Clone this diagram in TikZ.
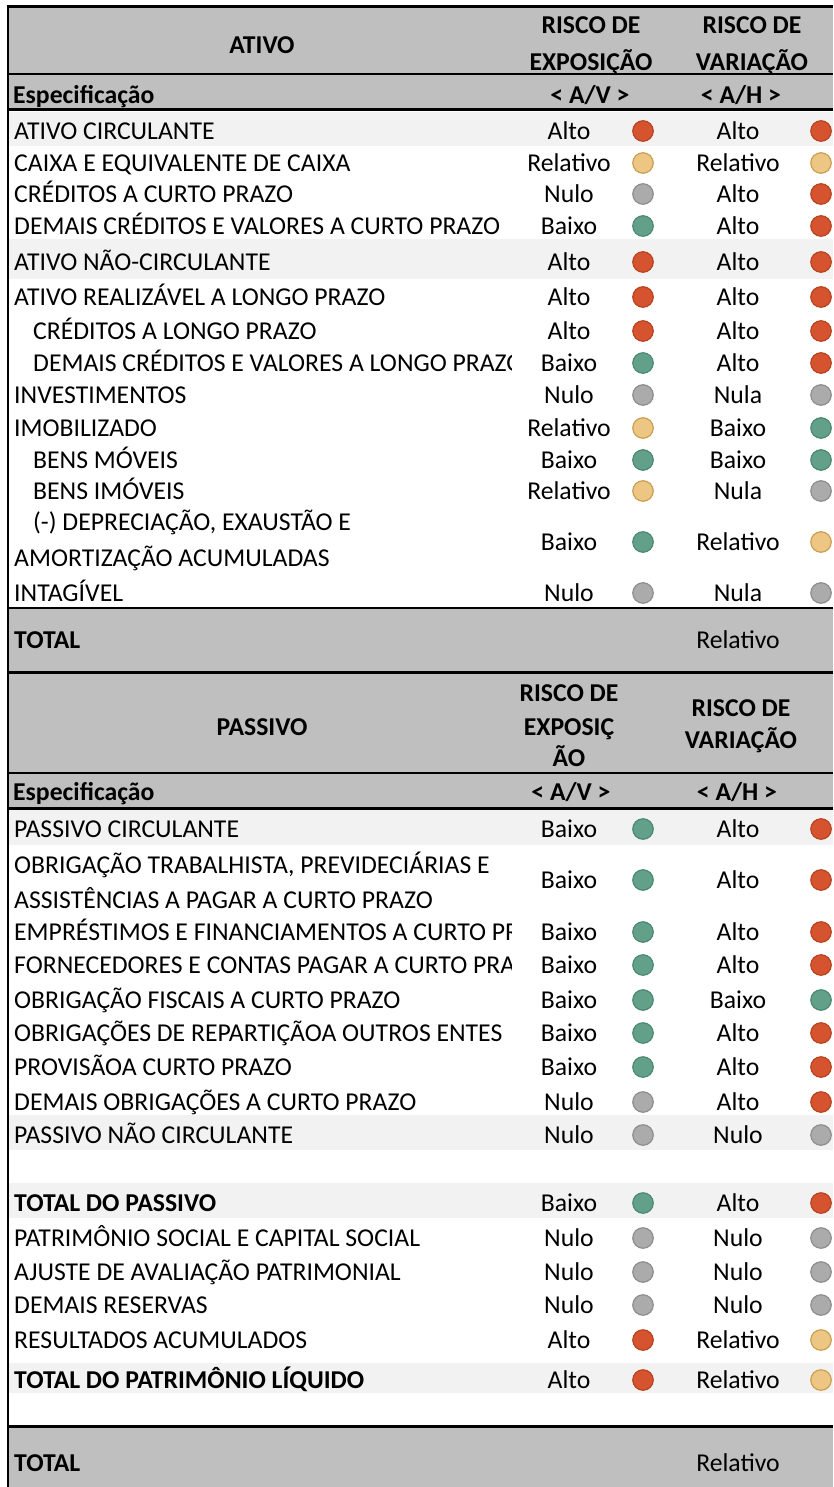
\documentclass[tikz,border=0pt]{standalone}
\usepackage{fontspec}
\setmainfont{Carlito}
\definecolor{hdrgray}{HTML}{BFBFBF}
\definecolor{bandgray}{HTML}{F2F2F2}
\definecolor{cR}{HTML}{D6532F}
\definecolor{cRd}{HTML}{B8441F}
\definecolor{cY}{HTML}{EEC683}
\definecolor{cYd}{HTML}{C9A052}
\definecolor{cG}{HTML}{62A08A}
\definecolor{cGd}{HTML}{4C8A73}
\definecolor{cN}{HTML}{ABABAB}
\definecolor{cNd}{HTML}{8E8E8E}
\newcommand{\tabfont}{\fontsize{25.7}{30}\selectfont}
\tikzset{
  every node/.style={font=\tabfont},
  lbl/.style={anchor=base west, inner sep=0pt},
  val/.style={anchor=base, inner sep=0pt},
  hdr/.style={anchor=base, inner sep=0pt, font=\tabfont\bfseries},
  hdrl/.style={anchor=base west, inner sep=0pt, font=\tabfont\bfseries},
  dot/.style={circle, minimum size=20.5pt, inner sep=0pt, line width=1.2pt},
  dotR/.style={dot, fill=cR, draw=cRd},
  dotY/.style={dot, fill=cY, draw=cYd},
  dotG/.style={dot, fill=cG, draw=cGd},
  dotN/.style={dot, fill=cN, draw=cNd},
  rule/.style={draw=black, line width=#1},
}
% values only
\newcommand{\vrow}[6]{%
  \node[val] (#1a) at (569,#2+8.3) {#3};
  \node[#4] (#1b) at (643,#2) {};
  \node[val] (#1c) at (738,#2+8.3) {#5};
  \node[#6] (#1d) at (821,#2) {};
}
% label (clipped to first column) and values
\newcommand{\trow}[8]{%
  \begin{scope}
    \clip (0,0) rectangle (511,1487);
    \node[lbl] (#1l) at (#3,#2+8.3) {#4};
  \end{scope}
  \vrow{#1}{#2}{#5}{#6}{#7}{#8}
}
\begin{document}
\begin{tikzpicture}[x=1pt,y=-1pt]
\useasboundingbox (0,0) rectangle (833,1487);
\fill[white] (0,0) rectangle (833,1487);
% header backgrounds
\fill[hdrgray] (8,7) rectangle (833,110);
\fill[hdrgray] (8,608) rectangle (833,808);
\fill[hdrgray] (8,1426) rectangle (833,1487);
% light bands
\fill[bandgray] (9,112) rectangle (833,146);
\fill[bandgray] (9,239) rectangle (833,279);
\fill[bandgray] (9,810) rectangle (833,845);
\fill[bandgray] (9,1115) rectangle (833,1150);
\fill[bandgray] (9,1183) rectangle (833,1218);
\fill[bandgray] (9,1363) rectangle (833,1393);
% rules
\draw[rule=3pt] (7,7) -- (833,7);
\draw[rule=2pt] (8,7) -- (8,1487);
\draw[rule=2pt] (7,74) -- (833,74);
\draw[rule=3pt] (7,110) -- (833,110);
\draw[rule=2pt] (7,608) -- (833,608);
\draw[rule=3pt] (7,672) -- (833,672);
\draw[rule=2pt] (7,773) -- (833,773);
\draw[rule=3pt] (7,808) -- (833,808);
\draw[rule=3pt] (7,1426) -- (833,1426);

% ATIVO header
\node[hdr] (hA) at (262,53.3) {ATIVO};
\node[hdr] (hA1) at (591,33.3) {RISCO DE};
\node[hdr] (hA2) at (591,70.3) {EXPOSIÇÃO};
\node[hdr] (hA3) at (752,33.3) {RISCO DE};
\node[hdr] (hA4) at (752,70.3) {VARIAÇÃO};
\node[hdrl] (hA5) at (13,103.3) {Especificação};
\node[hdr] (hA6) at (590,103.3) {< A/V >};
\node[hdr] (hA7) at (741,103.3) {< A/H >};

% ATIVO rows
\trow{a1}{131}{14}{ATIVO CIRCULANTE}{Alto}{dotR}{Alto}{dotR}
\trow{a2}{163}{14}{CAIXA E EQUIVALENTE DE CAIXA}{Relativo}{dotY}{Relativo}{dotY}
\trow{a3}{194}{14}{CRÉDITOS A CURTO PRAZO}{Nulo}{dotN}{Alto}{dotR}
\trow{a4}{226}{14}{DEMAIS CRÉDITOS E VALORES A CURTO PRAZO}{Baixo}{dotG}{Alto}{dotR}
\trow{a5}{262}{14}{ATIVO NÃO-CIRCULANTE}{Alto}{dotR}{Alto}{dotR}
\trow{a6}{297}{14}{ATIVO REALIZÁVEL A LONGO PRAZO}{Alto}{dotR}{Alto}{dotR}
\trow{a7}{331}{33}{CRÉDITOS A LONGO PRAZO}{Alto}{dotR}{Alto}{dotR}
\trow{a8}{363}{33}{DEMAIS CRÉDITOS E VALORES A LONGO PRAZO}{Baixo}{dotG}{Alto}{dotR}
\trow{a9}{395}{14}{INVESTIMENTOS}{Nulo}{dotN}{Nula}{dotN}
\trow{a10}{428}{14}{IMOBILIZADO}{Relativo}{dotY}{Baixo}{dotG}
\trow{a11}{460}{33}{BENS MÓVEIS}{Baixo}{dotG}{Baixo}{dotG}
\trow{a12}{491}{33}{BENS IMÓVEIS}{Relativo}{dotY}{Nula}{dotN}
\node[lbl] (a13l) at (33,530.3) {(-) DEPRECIAÇÃO, EXAUSTÃO E};
\node[lbl] (a13m) at (14,566.3) {AMORTIZAÇÃO ACUMULADAS};
\vrow{a13}{542}{Baixo}{dotG}{Relativo}{dotY}
\trow{a14}{593}{14}{INTAGÍVEL}{Nulo}{dotN}{Nula}{dotN}
\node[hdrl] (aT) at (14,648.3) {TOTAL};
\node[val] (aTv) at (738,648.3) {Relativo};

% PASSIVO header
\node[hdr] (hP) at (262,735.3) {PASSIVO};
\node[hdr] (hP1) at (569,701.3) {RISCO DE};
\node[hdr] (hP2) at (569,735.3) {EXPOSIÇ};
\node[hdr] (hP3) at (569,766.3) {ÃO};
\node[hdr] (hP4) at (741,716.3) {RISCO DE};
\node[hdr] (hP5) at (741,748.3) {VARIAÇÃO};
\node[hdrl] (hP6) at (13,800.3) {Especificação};
\node[hdr] (hP7) at (571,800.3) {< A/V >};
\node[hdr] (hP8) at (737,800.3) {< A/H >};

% PASSIVO rows
\trow{p1}{829}{14}{PASSIVO CIRCULANTE}{Baixo}{dotG}{Alto}{dotR}
\node[lbl] (p2l) at (14,873.3) {OBRIGAÇÃO TRABALHISTA, PREVIDECIÁRIAS E};
\node[lbl] (p2m) at (14,908.3) {ASSISTÊNCIAS A PAGAR A CURTO PRAZO};
\vrow{p2}{880}{Baixo}{dotG}{Alto}{dotR}
\trow{p3}{932}{14}{EMPRÉSTIMOS E FINANCIAMENTOS A CURTO PR}{Baixo}{dotG}{Alto}{dotR}
\trow{p4}{965}{14}{FORNECEDORES E CONTAS PAGAR A CURTO PRA}{Baixo}{dotG}{Alto}{dotR}
\trow{p5}{1000}{14}{OBRIGAÇÃO FISCAIS A CURTO PRAZO}{Baixo}{dotG}{Baixo}{dotG}
\trow{p6}{1033}{14}{OBRIGAÇÕES DE REPARTIÇÃOA OUTROS ENTES}{Baixo}{dotG}{Alto}{dotR}
\trow{p7}{1067}{14}{PROVISÃOA CURTO PRAZO}{Baixo}{dotG}{Alto}{dotR}
\trow{p8}{1102}{14}{DEMAIS OBRIGAÇÕES A CURTO PRAZO}{Nulo}{dotN}{Alto}{dotR}
\trow{p9}{1135}{14}{PASSIVO NÃO CIRCULANTE}{Nulo}{dotN}{Nulo}{dotN}
\trow{p10}{1203}{14}{\bfseries TOTAL DO PASSIVO}{Baixo}{dotG}{Alto}{dotR}
\trow{p11}{1238}{14}{PATRIMÔNIO SOCIAL E CAPITAL SOCIAL}{Nulo}{dotN}{Nulo}{dotN}
\trow{p12}{1272}{14}{AJUSTE DE AVALIAÇÃO PATRIMONIAL}{Nulo}{dotN}{Nulo}{dotN}
\trow{p13}{1305}{14}{DEMAIS RESERVAS}{Nulo}{dotN}{Nulo}{dotN}
\trow{p14}{1340}{14}{RESULTADOS ACUMULADOS}{Alto}{dotR}{Relativo}{dotY}
\trow{p15}{1380}{14}{\bfseries TOTAL DO PATRIMÔNIO LÍQUIDO}{Alto}{dotR}{Relativo}{dotY}
\node[hdrl] (pT) at (14,1471.3) {TOTAL};
\node[val] (pTv) at (738,1471.3) {Relativo};
\end{tikzpicture}
\end{document}
